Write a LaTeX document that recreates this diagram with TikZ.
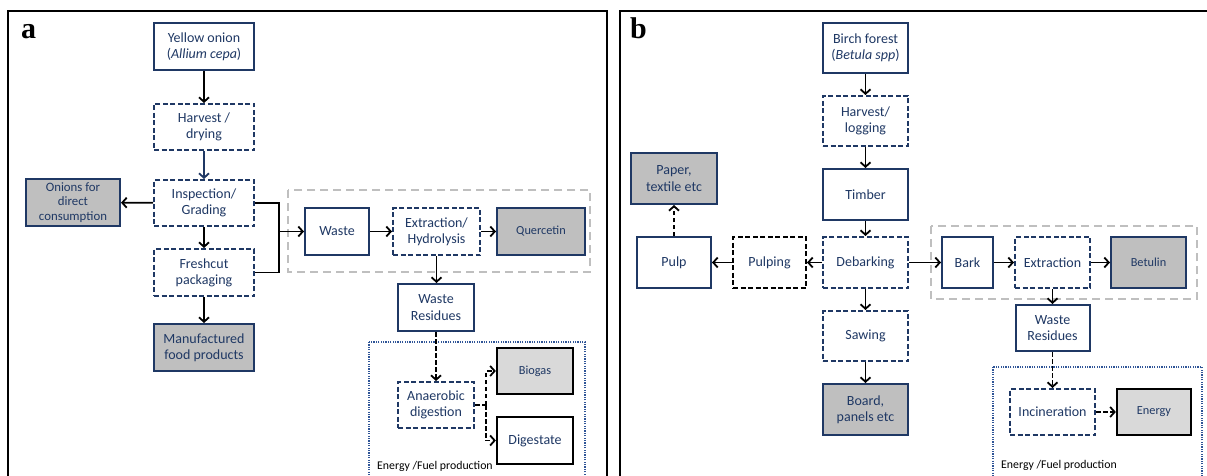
\documentclass[tikz,border=0pt]{standalone}
\usepackage{fontspec}
\setmainfont{Carlito}
\newfontfamily\panelfont{Liberation Serif}
\usetikzlibrary{arrows.meta}
\definecolor{navy}{RGB}{31,56,100}
\definecolor{prodgray}{RGB}{191,191,191}
\definecolor{lightgray2}{RGB}{217,217,217}
\definecolor{framegray}{RGB}{191,191,191}
\definecolor{dotblue}{RGB}{47,85,151}
\tikzset{
  box/.style={draw=navy, line width=2pt, fill=white, text=navy, align=center,
    inner sep=0pt, font=\fontsize{14}{16.2}\selectfont},
  sz/.style 2 args={minimum width=#1pt, minimum height=#2pt},
  dbox/.style={box, dash pattern=on 5pt off 2.5pt},
  kbox/.style={dbox, draw=black},
  prod/.style={box, fill=prodgray},
  small/.style={font=\fontsize{12.3}{14}\selectfont},
  onbox/.style={box, draw=black, line width=2.3pt},
  conn/.style={draw=black, line width=1.8pt, -{Straight Barb[length=4.5pt,width=10pt]}},
  nconn/.style={conn, draw=navy},
  dconn/.style={conn, dash pattern=on 4.5pt off 2.5pt},
  link/.style={draw=black, line width=1.8pt},
  dlink/.style={link, dash pattern=on 4.5pt off 2.5pt},
  frame/.style={draw=black, line width=2pt},
  grayframe/.style={draw=framegray, line width=1.6pt, dash pattern=on 8pt off 5pt},
  dotframe/.style={draw=dotblue, line width=1.6pt, dash pattern=on 1.2pt off 1.2pt},
  flabel/.style={anchor=base west, inner sep=0pt, text=black, font=\fontsize{11.8}{13}\selectfont},
  plabel/.style={anchor=base west, inner sep=0pt, font=\panelfont\bfseries\fontsize{30}{30}\selectfont}
}
\begin{document}
\begin{tikzpicture}[x=1pt,y=-1pt]
\useasboundingbox (0,0) rectangle (1207,476);
\clip (0,0) rectangle (1207,476);
\fill[white] (0,0) rectangle (1207,476);
% panel frames
\draw[frame] (8,520) -- (8,11) -- (607,11) -- (607,520);
\draw[frame] (620,520) -- (620,11) -- (1230,11);
\node[plabel] (la) at (21,39) {a};
\node[plabel] (lb) at (630,39) {b};

% ---------- panel a ----------
\draw[grayframe] (288,190) rectangle (590,272);
\draw[dotframe] (369,342) rectangle (585,520);
\node[flabel] (fa) at (377,469) {Energy /Fuel production};

\node[box, sz={100}{47}] (onion) at (204,46.5) {Yellow onion\\(\textit{Allium cepa})};
\node[dbox, sz={100}{46}] (harva) at (204,127) {Harvest /\\drying};
\node[dbox, sz={100}{46}] (insp) at (204,203) {Inspection/\\Grading};
\node[prod, sz={94}{47}, font=\fontsize{12.8}{14.5}\selectfont] (direct) at (73,202.5) {Onions for\\direct\\consumption};
\node[dbox, sz={100}{47}] (fresh) at (204,272.5) {Freshcut\\packaging};
\node[prod, sz={100}{47}] (manuf) at (204,347.5) {Manufactured\\food products};
\node[box, sz={64}{47}] (waste) at (337,231.5) {Waste};
\node[dbox, sz={87}{47}] (extra) at (436.5,231.5) {Extraction/\\Hydrolysis};
\node[prod, sz={88}{47}, small] (quer) at (541,231.5) {Quercetin};
\node[box, sz={76}{47}] (wresa) at (436,307.5) {Waste\\Residues};
\node[dbox, sz={76}{46}] (anaer) at (436,405) {Anaerobic\\digestion};
\node[onbox, fill=lightgray2, sz={76}{46}, small] (biogas) at (535,371) {Biogas};
\node[onbox, sz={76}{47}] (dig) at (535,440.5) {Digestate};

\draw[conn] (onion) -- (harva);
\draw[nconn] (harva) -- (insp);
\draw[conn] (insp) -- (direct);
\draw[conn] (insp) -- (fresh);
\draw[conn] (fresh) -- (manuf);
\coordinate (ja) at (279,231.5);
\draw[link] (insp.east) -| (ja);
\draw[link] (fresh.east) -| (ja);
\draw[conn] (ja) -- (waste.west);
\draw[conn] (waste) -- (extra);
\draw[conn] (extra) -- (quer);
\draw[conn] (extra.south) -- (extra.south |- wresa.north);
\draw[dconn] (wresa) -- (anaer);
\coordinate (sa) at (486,405);
\draw[dlink] (anaer.east) -- (sa);
\draw[dconn] (sa) |- (biogas.west);
\draw[dconn] (sa) |- (dig.west);

% ---------- panel b ----------
\draw[grayframe] (931,226) rectangle (1197,299);
\draw[dotframe] (993,367) rectangle (1202,520);
\node[flabel] (fb) at (1001,468) {Energy /Fuel production};

\node[box, sz={85}{50}] (birch) at (865.5,48) {Birch forest\\(\textit{Betula spp})};
\node[dbox, sz={85}{50}] (harvb) at (865.5,121) {Harvest/\\logging};
\node[box, sz={85}{51}] (timber) at (865.5,194.5) {Timber};
\node[dbox, sz={85}{51}] (deb) at (865.5,262.5) {Debarking};
\node[dbox, sz={85}{50}] (saw) at (865.5,336) {Sawing};
\node[prod, sz={85}{51}] (board) at (865.5,409.5) {Board,\\panels etc};
\node[kbox, sz={73}{51}] (pulping) at (769.5,262.5) {Pulping};
\node[box, sz={74}{51}] (pulp) at (674,262.5) {Pulp};
\node[prod, sz={86}{51}] (paper) at (674,178.5) {Paper,\\textile etc};
\node[box, sz={51}{51}] (bark) at (967.5,262.5) {Bark};
\node[dbox, sz={75}{51}] (extb) at (1052.5,262.5) {Extraction};
\node[prod, sz={75}{51}, small] (betulin) at (1148.5,262.5) {Betulin};
\node[box, sz={74}{46}] (wresb) at (1052.5,328) {Waste\\Residues};
\node[dbox, sz={85}{46}] (incin) at (1052.5,412) {Incineration};
\node[onbox, fill=lightgray2, sz={74}{46}, small] (energy) at (1154,412) {Energy};

\draw[conn] (birch) -- (harvb);
\draw[conn] (harvb) -- (timber);
\draw[conn] (timber) -- (deb);
\draw[conn] (deb) -- (saw);
\draw[conn] (saw) -- (board);
\draw[conn] (deb) -- (pulping);
\draw[conn] (pulping) -- (pulp);
\draw[dconn] (pulp) -- (paper);
\draw[conn] (deb) -- (bark);
\draw[conn] (bark) -- (extb);
\draw[conn] (extb) -- (betulin);
\draw[conn] (extb) -- (wresb);
\draw[dconn] (wresb) -- (incin);
\draw[dconn] (incin) -- (energy);
\end{tikzpicture}
\end{document}
